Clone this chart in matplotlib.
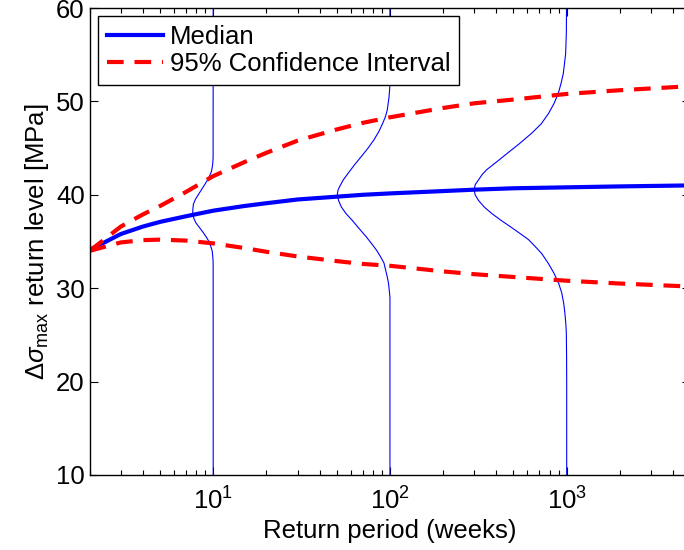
import numpy as np
import matplotlib
matplotlib.use("Agg")
import matplotlib.pyplot as plt

plt.rcParams['font.family'] = ['Liberation Sans', 'DejaVu Sans']
plt.rcParams['mathtext.fontset'] = 'custom'
plt.rcParams['mathtext.rm'] = 'Liberation Sans'
plt.rcParams['mathtext.it'] = 'Liberation Sans:italic'
plt.rcParams['mathtext.bf'] = 'Liberation Sans:bold'

# return periods (weeks) and return levels (MPa)
periods = [2, 3, 4, 5, 7, 10, 15, 20, 30, 50, 70, 100, 200, 300, 500, 1000, 2000, 4700]
median = [34.1, 35.8, 36.6, 37.1, 37.7, 38.3, 38.8, 39.1, 39.5, 39.8, 40.0, 40.15,
          40.4, 40.55, 40.7, 40.8, 40.9, 41.0]
ci_upper = [34.0, 36.6, 37.9, 38.8, 40.3, 42.0, 43.5, 44.5, 45.8, 47.0, 47.7, 48.3,
            49.3, 49.8, 50.2, 50.8, 51.2, 51.6]
ci_lower = [34.0, 34.9, 35.15, 35.2, 35.1, 34.8, 34.3, 33.9, 33.4, 32.9, 32.6, 32.4,
            31.8, 31.5, 31.2, 30.8, 30.5, 30.2]

# sampled densities of the return level at T = 10, 100, 1000
# (level in MPa, density drawn as a leftward offset in decades)
dens10_y = [10, 32.5, 33.0, 33.5, 34.0, 34.5, 35.0, 35.5, 36.0, 36.5, 37.0, 37.5, 38.0,
            38.5, 39.0, 39.5, 40.0, 40.5, 41.0, 41.5, 42.0, 42.5, 43.0, 43.5, 44.0, 60]
dens10_v = [0, 0.0003, 0.001, 0.003, 0.006, 0.014, 0.024, 0.040, 0.058, 0.078, 0.098,
            0.110, 0.116, 0.115, 0.112, 0.101, 0.085, 0.068, 0.051, 0.035, 0.021,
            0.010, 0.005, 0.002, 0.0006, 0]

dens100_y = [10, 29.0, 29.8, 30.5, 31.2, 31.9, 32.7, 33.4, 34.1, 34.8, 35.5, 36.4, 37.3,
             38.0, 38.7, 39.4, 40.0, 40.5, 40.9, 41.6, 42.3, 43.2, 44.1, 45.0, 45.9,
             46.8, 47.7, 48.4, 49.1, 50.5, 51.5, 60]
dens100_v = [0, 0, 0.004, 0.008, 0.015, 0.024, 0.034, 0.054, 0.077, 0.105, 0.134, 0.175,
             0.215, 0.249, 0.275, 0.291, 0.298, 0.294, 0.284, 0.264, 0.237, 0.201,
             0.162, 0.124, 0.090, 0.062, 0.040, 0.025, 0.015, 0.005, 0.001, 0]

dens1000_y = [10, 20.0, 22.7, 25.2, 26.2, 27.3, 28.4, 29.5, 30.5, 31.6, 32.6, 33.7, 34.4,
              35.2, 35.9, 36.6, 37.3, 38.0, 38.7, 39.4, 40.0, 40.6, 41.1, 41.6, 42.2,
              42.7, 43.5, 44.4, 45.5, 46.6, 47.6, 48.7, 49.8, 50.9, 52.0, 53.0, 55.1,
              57.3, 60]
dens1000_v = [0, 0, 0.0006, 0.002, 0.005, 0.010, 0.017, 0.028, 0.045, 0.072, 0.102,
              0.141, 0.175, 0.216, 0.267, 0.320, 0.374, 0.424, 0.467, 0.499, 0.518,
              0.524, 0.517, 0.499, 0.477, 0.452, 0.398, 0.339, 0.266, 0.198, 0.144,
              0.103, 0.071, 0.047, 0.031, 0.019, 0.006, 0.002, 0.001]

densities = [(10, dens10_y, dens10_v), (100, dens100_y, dens100_v),
             (1000, dens1000_y, dens1000_v)]

fig = plt.figure(figsize=(6.84, 5.5), dpi=100)
ax = fig.add_axes([0.1311, 0.1364, 0.878, 0.849])

for T, yy, vv in densities:
    xx = T * 10 ** (-np.array(vv))
    ax.plot(xx, yy, color='blue', lw=0.8)

ax.plot(periods, median, color='blue', lw=3, label='Median')
ax.plot(periods, ci_upper, color='red', lw=3, dashes=(4, 2.6),
        label='95% Confidence Interval')
ax.plot(periods, ci_lower, color='red', lw=3, dashes=(4, 2.6))

ax.set_xscale('log')
ax.set_xlim(2, 5000)
ax.set_ylim(10, 60)
ax.set_yticks([10, 20, 30, 40, 50, 60])

fs = 18.5
ax.tick_params(which='both', direction='in', top=True, right=True, labelsize=fs,
               width=0.8, color='black')
ax.tick_params(which='major', length=6)
ax.tick_params(which='minor', length=3.5)
ax.tick_params(axis='x', which='both', pad=9)
for s in ax.spines.values():
    s.set_linewidth(1.0)

ax.set_xlabel('Return period (weeks)', fontsize=fs, labelpad=3)
ax.set_ylabel(r'$\Delta\sigma_{\mathrm{max}}$ return level [MPa]', fontsize=fs, labelpad=4)

leg = ax.legend(loc='upper left', fontsize=fs, fancybox=False, edgecolor='black',
                framealpha=1, handlelength=2.2, handletextpad=0.25,
                labelspacing=0.12, borderaxespad=0.32, borderpad=0.35)
leg.get_frame().set_linewidth(1.0)

fig.savefig('out.png', dpi=100)
